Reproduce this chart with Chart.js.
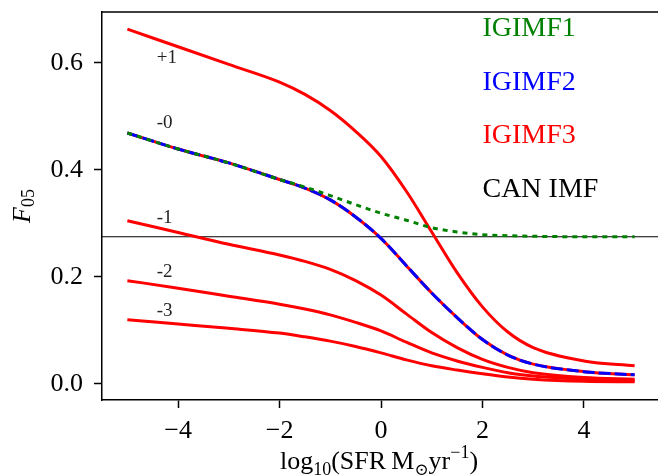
<!DOCTYPE html>
<html>
<head>
<meta charset="utf-8">
<script src="https://cdn.jsdelivr.net/npm/chart.js@4"></script>
<style>
  html, body { margin: 0; padding: 0; background: #fff; overflow: hidden; }
  #wrap { width: 658px; height: 475px; overflow: hidden; }
</style>
</head>
<body>
<div id="wrap"><canvas id="chart" width="664" height="475"></canvas></div>
<script>
// valores (log10 SFR)
const sfr = [-5, -4, -3, -2, -1.5, -1, -0.5, 0, 0.5, 1, 1.5, 2, 2.5, 3, 4, 5];

// pendiente +1, -0, -1, -2, -3 (IGIMF3)
const slopePlus1  = [0.663, 0.630, 0.597, 0.564, 0.541, 0.511, 0.472, 0.425, 0.360, 0.284, 0.208, 0.144, 0.097, 0.068, 0.043, 0.034];
const slopeZero   = [0.469, 0.439, 0.413, 0.382, 0.366, 0.344, 0.312, 0.272, 0.221, 0.170, 0.124, 0.083, 0.054, 0.037, 0.023, 0.017];
const slopeMinus1 = [0.305, 0.283, 0.261, 0.241, 0.229, 0.214, 0.193, 0.166, 0.131, 0.096, 0.068, 0.046, 0.031, 0.021, 0.012, 0.009];
const slopeMinus2 = [0.193, 0.179, 0.164, 0.149, 0.140, 0.129, 0.115, 0.099, 0.078, 0.058, 0.043, 0.031, 0.021, 0.015, 0.009, 0.006];
const slopeMinus3 = [0.120, 0.112, 0.104, 0.095, 0.088, 0.080, 0.070, 0.058, 0.045, 0.034, 0.026, 0.019, 0.013, 0.009, 0.005, 0.004];

// IGIMF2 coincide con IGIMF3 en pendiente 0; IGIMF1 se separa
const igimf2Zero = slopeZero;
const igimf1Zero = [0.469, 0.439, 0.413, 0.382, 0.368, 0.352, 0.335, 0.319, 0.306, 0.292, 0.284, 0.279, 0.277, 0.276, 0.275, 0.275];

// IMF canonica (linea horizontal)
const canonX = [-5.5, 5.5];
const canonF = [0.275, 0.275];

const xTicks = [-4, -2, 0, 2, 4];
const yTicks = [0, 0.2, 0.4, 0.6];

const curveLabels = ['+1', '-0', '-1', '-2', '-3'];
const legendNames = ['IGIMF1', 'IGIMF2', 'IGIMF3', 'CAN IMF'];

const SERIF = '"Liberation Serif", "DejaVu Serif", serif';
const toPts = (xs, ys) => xs.map((x, i) => ({ x: x, y: ys[i] }));

function redLine(ys) {
  return { data: toPts(sfr, ys), borderColor: '#ff0000', borderWidth: 3 };
}

// textos dentro del area y titulos de los ejes
const textPlugin = {
  id: 'textos',
  afterDatasetsDraw(chart) {
    const { ctx, scales: { x, y }, chartArea: a } = chart;
    ctx.save();
    // borde superior (y derecho)
    ctx.strokeStyle = '#000';
    ctx.lineWidth = 1.5;
    ctx.beginPath();
    ctx.moveTo(a.left, a.top);
    ctx.lineTo(a.right, a.top);
    ctx.lineTo(a.right, a.bottom);
    ctx.stroke();

    // etiquetas de pendiente
    const labelY = [0.6, 0.478, 0.3, 0.2, 0.127];
    ctx.fillStyle = '#222';
    ctx.font = '19px ' + SERIF;
    ctx.textAlign = 'left';
    ctx.textBaseline = 'alphabetic';
    curveLabels.forEach((t, i) => {
      ctx.fillText(t, x.getPixelForValue(-4.42), y.getPixelForValue(labelY[i]));
    });

    // leyenda como texto
    const legY = [0.65, 0.55, 0.45, 0.35];
    const legC = ['#008000', '#0000ff', '#ff0000', '#000000'];
    ctx.font = '28px ' + SERIF;
    legendNames.forEach((t, i) => {
      ctx.fillStyle = legC[i];
      ctx.fillText(t, x.getPixelForValue(2), y.getPixelForValue(legY[i]));
    });
    ctx.restore();
  },
  afterDraw(chart) {
    const ctx = chart.ctx;
    ctx.save();
    ctx.fillStyle = '#000';
    ctx.textBaseline = 'alphabetic';
    ctx.textAlign = 'left';

    // titulo eje x: log10(SFR M_sun yr^-1)
    const parts = [
      { t: 'log', s: 26, dy: 0 },
      { t: '10', s: 18, dy: 6 },
      { t: '(SFR\u2009M', s: 26, dy: 0 },
      { t: '\u2299', s: 17, dy: 6 },
      { t: 'yr', s: 26, dy: 0 },
      { t: '\u22121', s: 18, dy: -11 },
      { t: ')', s: 26, dy: 0 }
    ];
    let total = 0;
    parts.forEach(p => { ctx.font = p.s + 'px ' + SERIF; p.w = ctx.measureText(p.t).width; total += p.w; });
    let px = 379 - total / 2;
    parts.forEach(p => {
      ctx.font = p.s + 'px ' + SERIF;
      ctx.fillText(p.t, px, 469 + p.dy);
      px += p.w;
    });

    // titulo eje y: F_05
    ctx.translate(30, 206);
    ctx.rotate(-Math.PI / 2);
    ctx.font = 'italic 26px ' + SERIF;
    const wF = ctx.measureText('F').width;
    ctx.font = '18px ' + SERIF;
    const wS = ctx.measureText('05').width;
    const x0 = -(wF + wS) / 2;
    ctx.font = 'italic 26px ' + SERIF;
    ctx.fillText('F', x0, 0);
    ctx.font = '18px ' + SERIF;
    ctx.fillText('05', x0 + wF, 4);
    ctx.restore();
  }
};

const fmt = v => (v < 0 ? '\u2212' + Math.abs(v) : String(v));

new Chart(document.getElementById('chart'), {
  type: 'line',
  data: {
    datasets: [
      { data: toPts(sfr, igimf1Zero), borderColor: '#008000', borderWidth: 3, borderDash: [5, 5] },
      { data: toPts(sfr, igimf2Zero), borderColor: '#0000ff', borderWidth: 3, borderDash: [12, 4] },
      redLine(slopeZero),
      redLine(slopePlus1),
      redLine(slopeMinus1),
      redLine(slopeMinus2),
      redLine(slopeMinus3),
      { data: toPts(canonX, canonF), borderColor: '#000', borderWidth: 1.2 }
    ]
  },
  options: {
    responsive: false,
    animation: false,
    devicePixelRatio: 1,
    layout: { padding: { top: 12, right: 4, left: 0, bottom: 0 } },
    elements: {
      point: { radius: 0 },
      line: { cubicInterpolationMode: 'monotone', fill: false }
    },
    plugins: { legend: { display: false }, tooltip: { enabled: false } },
    scales: {
      x: {
        type: 'linear',
        min: -5.5,
        max: 5.5,
        afterFit: s => { s.height = 75; s.paddingLeft = 0; s.paddingRight = 0; },
        afterBuildTicks: s => { s.ticks = xTicks.map(v => ({ value: v })); },
        border: { display: true, color: '#000', width: 1.5 },
        grid: { drawOnChartArea: false, drawTicks: true, tickLength: 8, tickWidth: 1.5, tickColor: '#000' },
        ticks: { color: '#000', padding: 8, font: { family: SERIF, size: 26 }, callback: v => fmt(v) }
      },
      y: {
        min: -0.03,
        max: 0.695,
        afterFit: s => { s.width = 102; s.paddingTop = 0; s.paddingBottom = 0; },
        afterBuildTicks: s => { s.ticks = yTicks.map(v => ({ value: v })); },
        border: { display: true, color: '#000', width: 1.5 },
        grid: { drawOnChartArea: false, drawTicks: true, tickLength: 8, tickWidth: 1.5, tickColor: '#000' },
        ticks: { color: '#000', padding: 11, font: { family: SERIF, size: 26 }, callback: v => v.toFixed(1) }
      }
    }
  },
  plugins: [textPlugin]
});
</script>
</body>
</html>
